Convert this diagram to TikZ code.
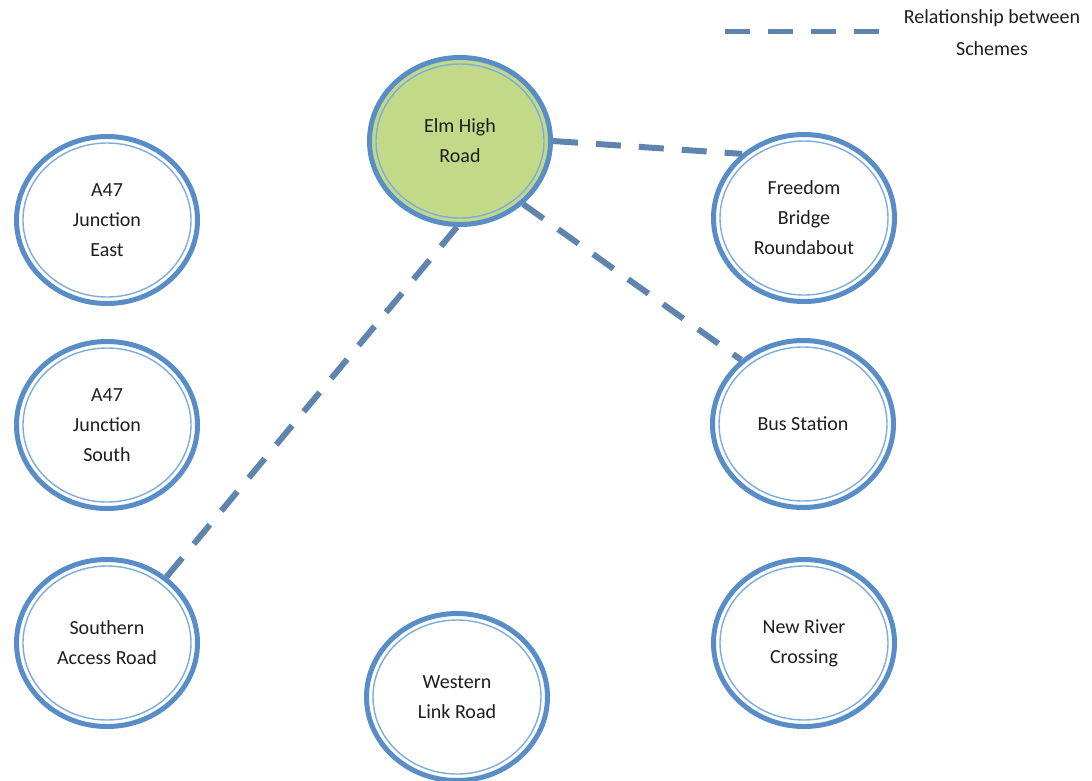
\documentclass[tikz,border=0pt]{standalone}
\usepackage{fontspec}
\setmainfont{Carlito}
\usetikzlibrary{shapes.geometric}
\definecolor{ringblue}{RGB}{88,141,199}
\definecolor{innerblue}{RGB}{125,172,222}
\definecolor{linkblue}{RGB}{95,133,175}
\definecolor{elmgreen}{RGB}{194,218,135}
\definecolor{txt}{RGB}{30,30,30}
\tikzset{
  scheme/.style={ellipse, draw=ringblue, line width=5pt, fill=white,
    minimum width=181pt, minimum height=167pt, inner sep=0pt,
    align=center, text=txt, font=\fontsize{20}{30}\selectfont,
    path picture={\draw[innerblue, line width=1.4pt]
      (path picture bounding box.center) ellipse [x radius=84pt, y radius=77pt];}},
  link/.style={draw=linkblue, line width=6pt, dash pattern=on 25pt off 18pt},
  legendtext/.style={align=center, text=txt, font=\fontsize{20}{32}\selectfont}
}
\begin{document}
\begin{tikzpicture}[x=1pt,y=-1pt]
\useasboundingbox (0,0) rectangle (1092,780);
\node[scheme, fill=elmgreen] (elm) at (460,141) {Elm High\\Road};
\node[scheme] (east) at (107,220) {A47\\Junction\\East};
\node[scheme] (south) at (107,425) {A47\\Junction\\South};
\node[scheme] (southern) at (107,643) {Southern\\Access Road};
\node[scheme] (western) at (457,697) {Western\\Link Road};
\node[scheme] (freedom) at (804,218) {Freedom\\Bridge\\Roundabout};
\node[scheme] (bus) at (803,424) {Bus Station};
\node[scheme] (river) at (804,643) {New River\\Crossing};
\draw[link] (elm.0) -- (freedom.134);
\draw[link] (elm.-45) -- (bus.134);
\draw[link] (elm.-92) -- (southern.48);
\coordinate (lgA) at (725,31);
\coordinate (lgB) at (880,31);
\draw[link, line width=5pt] (lgA) -- (lgB);
\node[legendtext] (lgtext) at (992,33) {Relationship between\\Schemes};
\end{tikzpicture}
\end{document}
